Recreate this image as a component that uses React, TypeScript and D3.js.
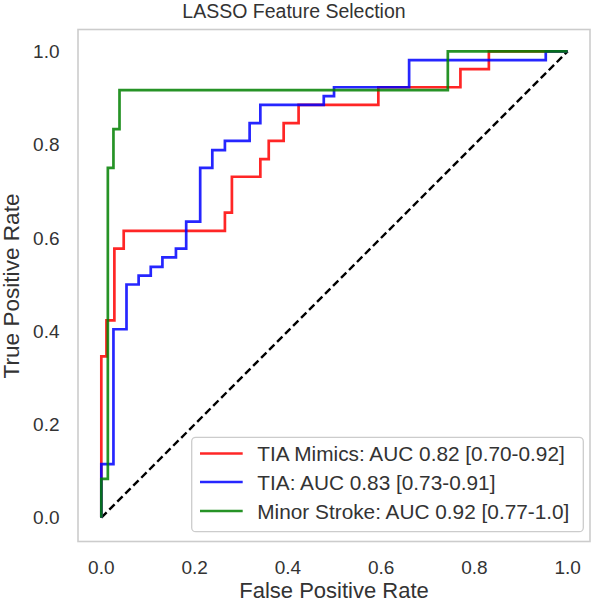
import React from "react";
import * as d3 from "d3";

// ROC curve vertices (fpr, tpr)
const redFpr = [0, 0, 0.011, 0.011, 0.028, 0.028, 0.048, 0.048, 0.265, 0.265, 0.28, 0.28, 0.341, 0.341, 0.359, 0.359, 0.391, 0.391, 0.423, 0.423, 0.594, 0.594, 0.77, 0.77, 0.831, 0.831, 1];
const redTpr = [0, 0.346, 0.346, 0.423, 0.423, 0.577, 0.577, 0.615, 0.615, 0.654, 0.654, 0.731, 0.731, 0.769, 0.769, 0.808, 0.808, 0.846, 0.846, 0.885, 0.885, 0.923, 0.923, 0.962, 0.962, 1, 1];

const blueFpr = [0, 0, 0.026, 0.026, 0.054, 0.054, 0.08, 0.08, 0.106, 0.106, 0.131, 0.131, 0.16, 0.16, 0.182, 0.182, 0.212, 0.212, 0.238, 0.238, 0.265, 0.265, 0.318, 0.318, 0.341, 0.341, 0.477, 0.477, 0.499, 0.499, 0.66, 0.66, 0.953, 0.953, 1];
const blueTpr = [0, 0.115, 0.115, 0.404, 0.404, 0.5, 0.5, 0.519, 0.519, 0.538, 0.538, 0.558, 0.558, 0.577, 0.577, 0.635, 0.635, 0.75, 0.75, 0.788, 0.788, 0.808, 0.808, 0.846, 0.846, 0.885, 0.885, 0.904, 0.904, 0.923, 0.923, 0.981, 0.981, 1, 1];

const greenFpr = [0, 0, 0.014, 0.014, 0.026, 0.026, 0.039, 0.039, 0.743, 0.743, 1];
const greenTpr = [0, 0.083, 0.083, 0.75, 0.75, 0.833, 0.833, 0.917, 0.917, 1, 1];

const seriesNames = [
  "TIA Mimics: AUC 0.82 [0.70-0.92]",
  "TIA: AUC 0.83 [0.73-0.91]",
  "Minor Stroke: AUC 0.92 [0.77-1.0]",
];
const seriesColors = ["#ff0000", "#0000ff", "#008000"];
const tickValues = [0, 0.2, 0.4, 0.6, 0.8, 1.0];

const W = 596;
const H = 603;
const FONT = "'Liberation Sans', Arial, sans-serif";
const TXT = "#333333";

export default function App() {
  const x = d3.scaleLinear().domain([-0.05, 1.05]).range([78, 591]);
  const y = d3.scaleLinear().domain([-0.05, 1.05]).range([541, 28]);

  const line = d3
    .line<[number, number]>()
    .x((d) => x(d[0]))
    .y((d) => y(d[1]));

  const series = [
    { fpr: redFpr, tpr: redTpr },
    { fpr: blueFpr, tpr: blueTpr },
    { fpr: greenFpr, tpr: greenTpr },
  ];

  const legendX = 191.7;
  const legendY = 437.3;
  const rowY = [453.5, 482, 511];

  return (
    <svg
      width={W}
      height={H}
      style={{ position: "absolute", left: 0, top: 0, background: "#fff" }}
      fontFamily={FONT}
    >
      <rect x={0} y={0} width={W} height={H} fill="#fff" />
      {/* title */}
      <text x={294} y={17.5} textAnchor="middle" fontSize={19.5} fill={TXT}>
        LASSO Feature Selection
      </text>

      {/* diagonal */}
      <path
        d={line([
          [0, 0],
          [1, 1],
        ]) || ""}
        fill="none"
        stroke="#000"
        strokeWidth={2.4}
        strokeDasharray="7.5,3.8"
      />

      {/* curves */}
      {series.map((s, i) => (
        <path
          key={i}
          d={line(s.fpr.map((f, j) => [f, s.tpr[j]] as [number, number])) || ""}
          fill="none"
          stroke={seriesColors[i]}
          strokeWidth={2.7}
          strokeOpacity={0.85}
        />
      ))}

      {/* frame */}
      <rect x={78} y={29.5} width={512} height={512} fill="none" stroke="#cccccc" strokeWidth={1.6} />

      {/* x ticks */}
      {tickValues.map((t) => (
        <text key={"x" + t} x={x(t)} y={573.5} textAnchor="middle" fontSize={19} fill={TXT}>
          {t.toFixed(1)}
        </text>
      ))}
      {/* y ticks */}
      {tickValues.map((t) => (
        <text
          key={"y" + t}
          x={59.5}
          y={y(t) + 6.8}
          textAnchor="end"
          fontSize={19}
          fill={TXT}
        >
          {t.toFixed(1)}
        </text>
      ))}

      {/* axis labels */}
      <text x={334} y={598} textAnchor="middle" fontSize={22} fill={TXT}>
        False Positive Rate
      </text>
      <text
        transform={`translate(18.5, 286) rotate(-90)`}
        textAnchor="middle"
        fontSize={22.6}
        fill={TXT}
      >
        True Positive Rate
      </text>

      {/* legend */}
      <rect
        x={legendX}
        y={legendY}
        width={391.6}
        height={94.4}
        rx={4}
        fill="#ffffff"
        fillOpacity={0.8}
        stroke="#cccccc"
        strokeWidth={1.3}
      />
      {seriesNames.map((name, i) => (
        <g key={name}>
          <line
            x1={200}
            x2={242.7}
            y1={rowY[i]}
            y2={rowY[i]}
            stroke={seriesColors[i]}
            strokeWidth={2.7}
            strokeOpacity={0.85}
          />
          <text x={257.3} y={rowY[i] + 7.5} fontSize={20.8} fill={TXT}>
            {name}
          </text>
        </g>
      ))}
    </svg>
  );
}
